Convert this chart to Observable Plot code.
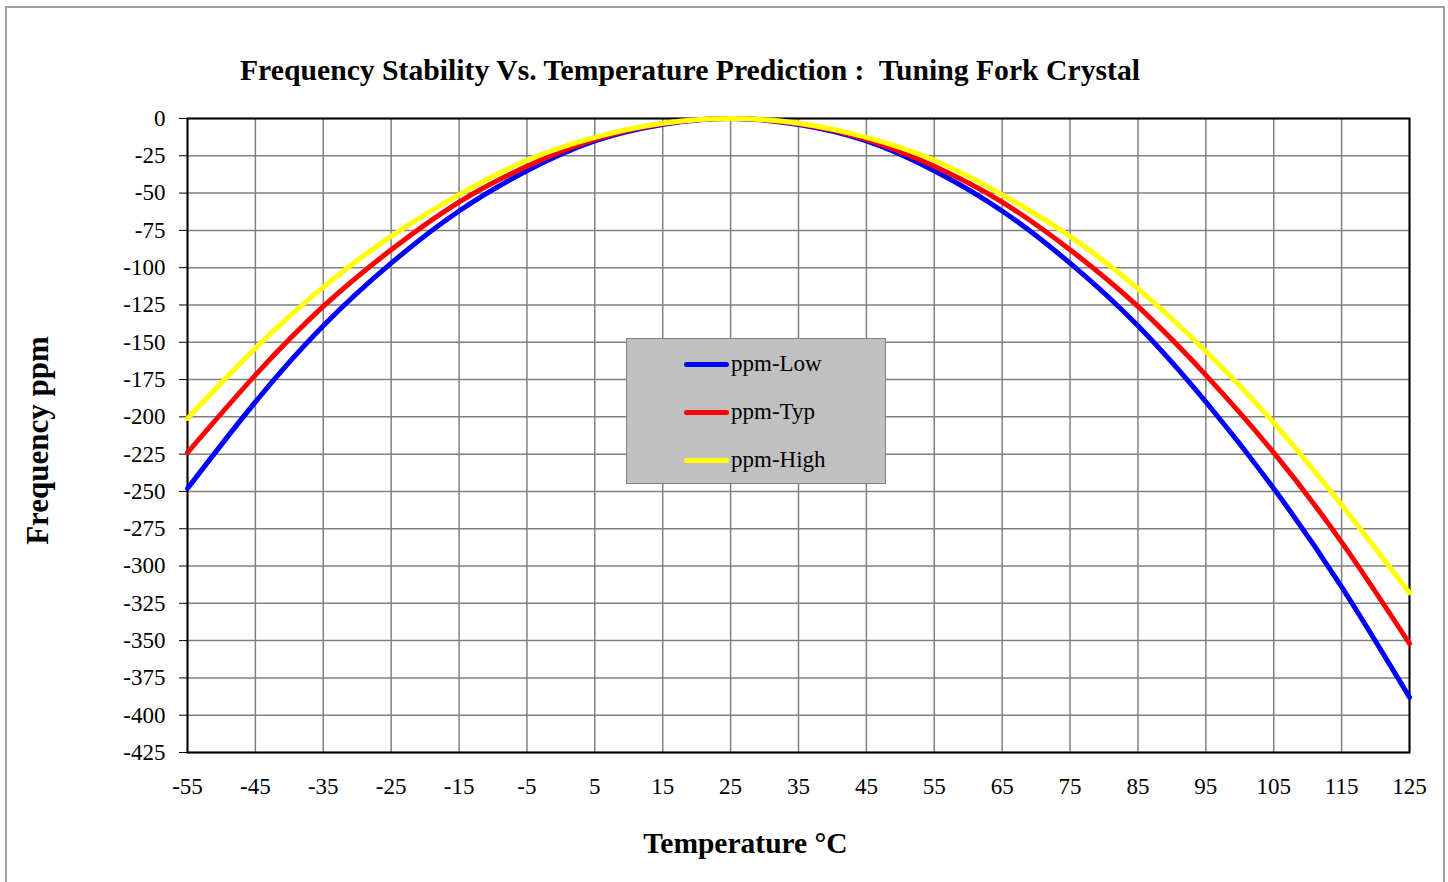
<!DOCTYPE html>
<html>
<head>
<meta charset="utf-8">
<script src="https://cdn.jsdelivr.net/npm/d3@7"></script>
<script src="https://cdn.jsdelivr.net/npm/@observablehq/plot@0.6"></script>
<style>
  html, body { margin: 0; padding: 0; background: #fff; }
  #wrap { position: relative; width: 1448px; height: 882px; overflow: hidden; font-family: "Liberation Serif", "Times New Roman", serif; }
  #frame { position: absolute; left: 5px; top: 6px; width: 1440px; height: 890px; border: 2px solid #a0a0a0; box-sizing: border-box; }
  #title { position: absolute; left: 0; width: 1380px; top: 54px; text-align: center; font-weight: bold; font-size: 29.7px; color: #000; white-space: pre; }
  #chart { position: absolute; left: 0; top: 0; }
  #legend { position: absolute; left: 626px; top: 338px; width: 260px; height: 146px; background: #c0c0c0; border: 1px solid #808080; box-sizing: border-box; }
  .item { position: absolute; left: 57px; height: 30px; display: flex; align-items: center; font-size: 23px; color: #000; }
  .sw { width: 45px; height: 5px; border-radius: 3px; margin-right: 2px; }
</style>
</head>
<body>
<div id="wrap">
  <div id="frame"></div>
  <div id="chart"></div>
  <div id="title">Frequency Stability Vs. Temperature Prediction :  Tuning Fork Crystal</div>
  <div id="legend"></div>
</div>
<script>
const temps = [-55, -45, -35, -25, -15, -5, 5, 15, 25, 35, 45, 55, 65, 75, 85, 95, 105, 115, 125];
const ppmLow  = [-248, -190, -139, -97, -62, -35, -15, -4, 0, -4, -15, -35, -62, -97, -139, -190, -248, -314, -388];
const ppmTyp  = [-224, -172, -126, -88, -56, -32, -14, -3.5, 0, -3.5, -14, -32, -56, -88, -126, -172, -224, -284, -352];
const ppmHigh = [-201, -154, -113, -79, -51, -28, -12.6, -3.2, 0, -3.2, -12.6, -28, -51, -79, -114, -156, -204, -259, -318];
const seriesNames = ["ppm-Low", "ppm-Typ", "ppm-High"];
const seriesColors = ["#0000ff", "#ff0000", "#ffff00"];
const xTicks = d3.range(-55, 126, 10);
const yTicks = d3.range(-425, 1, 25);

const seriesValues = [ppmLow, ppmTyp, ppmHigh];
const rows = [];
seriesNames.forEach((name, i) => {
  temps.forEach((t, j) => rows.push({series: name, t, v: seriesValues[i][j]}));
});

const fmt = d => String(d);

const chart = Plot.plot({
  width: 1448,
  height: 882,
  marginLeft: 187,
  marginRight: 39,
  marginTop: 118,
  marginBottom: 130,
  style: {fontFamily: "'Liberation Serif', 'Times New Roman', serif", fontSize: "23px", color: "#000", background: "transparent"},
  x: {domain: [-55, 125], ticks: xTicks, label: null},
  y: {domain: [-425, 0], ticks: yTicks, label: null},
  color: {domain: seriesNames, range: seriesColors},
  marks: [
    Plot.gridX(xTicks, {stroke: "#808080", strokeOpacity: 1, strokeWidth: 1.5}),
    Plot.gridY(yTicks, {stroke: "#808080", strokeOpacity: 1, strokeWidth: 1.5}),
    Plot.axisX(xTicks, {tickSize: 0, tickPadding: 25, fontSize: 23, label: null, tickFormat: fmt}),
    Plot.axisY(yTicks, {tickSize: 8, tickPadding: 14, fontSize: 23, stroke: "#000", label: null, tickFormat: fmt}),
    Plot.frame({stroke: "#000", strokeWidth: 2}),
    Plot.line(rows, {x: "t", y: "v", z: "series", stroke: "series", strokeWidth: 5, curve: "natural"}),
    Plot.text(["Temperature °C"], {frameAnchor: "bottom", dy: 100, fontSize: 29.5, fontWeight: "bold", dx: -53}),
    Plot.text(["Frequency ppm"], {frameAnchor: "left", textAnchor: "middle", dx: -149, dy: 5, rotate: -90, fontSize: 31, fontWeight: "bold"})
  ]
});
document.getElementById("chart").appendChild(chart);

const legend = document.getElementById("legend");
seriesNames.forEach((name, i) => {
  const item = document.createElement("div");
  item.className = "item";
  item.style.top = (10 + i * 48) + "px";
  const sw = document.createElement("div");
  sw.className = "sw";
  sw.style.background = seriesColors[i];
  const label = document.createElement("span");
  label.textContent = name;
  item.appendChild(sw);
  item.appendChild(label);
  legend.appendChild(item);
});
</script>
</body>
</html>
